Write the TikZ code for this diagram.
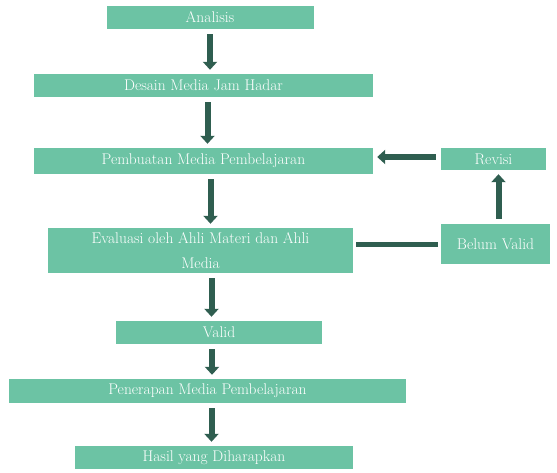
\documentclass[tikz,border=0pt]{standalone}
\usetikzlibrary{arrows.meta}
\definecolor{boxgreen}{RGB}{108,195,164}
\definecolor{arrowgreen}{RGB}{47,94,80}
\begin{document}
\begin{tikzpicture}[x=1pt,y=1pt,
    stepbox/.style={fill=boxgreen,text=white,font=\fontsize{15.5}{19}\selectfont,align=center,inner sep=0pt},
    flow/.style={arrowgreen,line width=6pt,-{Triangle[width=14pt,length=8pt]},shorten <=5pt,shorten >=4pt},
    link/.style={arrowgreen,line width=5pt,shorten <=3pt,shorten >=3pt}]
            \useasboundingbox (0,0) rectangle (557,472);
            % main column
            \node[stepbox,minimum width=207,minimum height=23] (ana) at (210,454.5) {Analisis};
            \node[stepbox,minimum width=339,minimum height=23] (des) at (203.5,386.5) {Desain Media Jam Hadar};
            \node[stepbox,minimum width=339,minimum height=26] (pem) at (203.5,311) {Pembuatan Media Pembelajaran};
            \node[stepbox,minimum width=305,minimum height=45] (eva) at (200.5,221.5) {Evaluasi oleh Ahli Materi dan Ahli\\[6pt] Media};
            \node[stepbox,minimum width=206,minimum height=23] (val) at (219,139.5) {Valid};
            \node[stepbox,minimum width=397,minimum height=24] (pen) at (207.5,81) {Penerapan Media Pembelajaran};
            \node[stepbox,minimum width=278,minimum height=23] (has) at (214,14.5) {Hasil yang Diharapkan};
            % revision loop
            \node[stepbox,minimum width=105,minimum height=22] (rev) at (493.5,313) {Revisi};
            \node[stepbox,minimum width=109,minimum height=40] (bel) at (495.5,228) {Belum Valid};
            % arrows
            \draw[flow] (ana.south) -- (ana.south |- des.north);
            \draw[flow] ([xshift=4pt]des.south) -- ([xshift=4pt]des.south |- pem.north);
            \draw[flow] ([xshift=7pt]pem.south) -- ([xshift=7pt]pem.south |- eva.north);
            \draw[flow] ([xshift=11pt]eva.south) -- ([xshift=11pt]eva.south |- val.north);
            \draw[flow] ([xshift=-7pt]val.south) -- ([xshift=-7pt]val.south |- pen.north);
            \draw[flow] ([xshift=4pt]pen.south) -- ([xshift=4pt]pen.south |- has.north);
            \draw[link] (bel.west) -- (bel.west -| eva.east);
            \draw[flow] ([xshift=3pt]bel.north) -- ([xshift=3pt]bel.north |- rev.south);
            \draw[flow] ([yshift=2pt]rev.west) -- ([yshift=2pt]rev.west -| pem.east);
\end{tikzpicture}
\end{document}
